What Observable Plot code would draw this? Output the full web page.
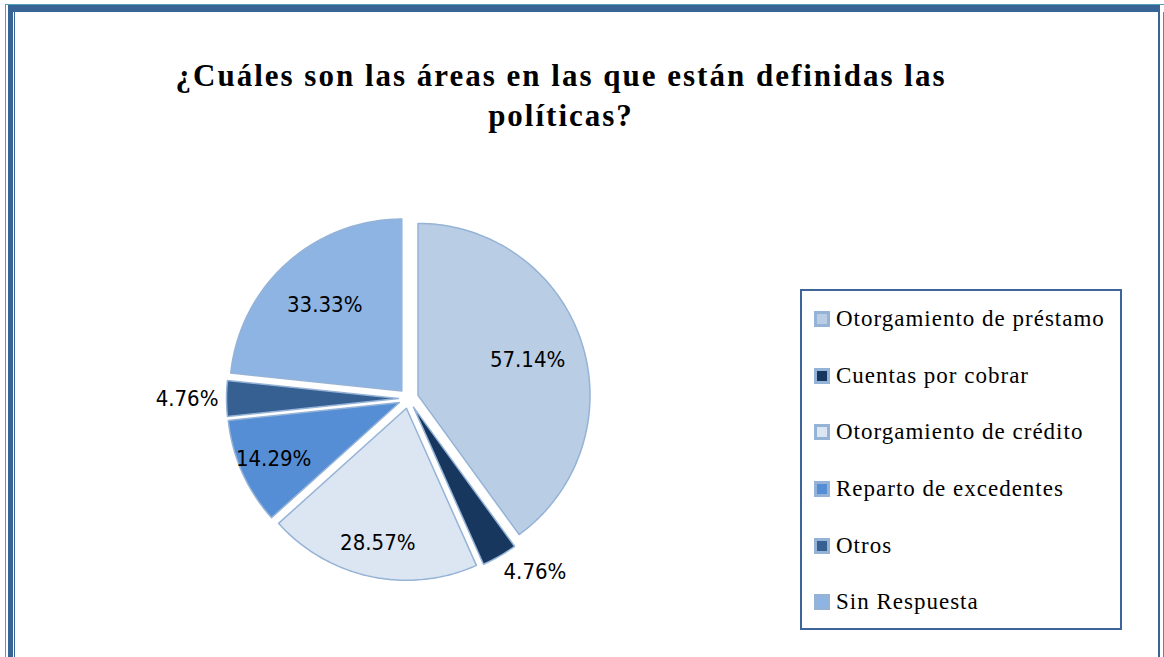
<!DOCTYPE html>
<html><head><meta charset="utf-8">
<script src="https://cdn.jsdelivr.net/npm/d3@7"></script>
<script src="https://cdn.jsdelivr.net/npm/@observablehq/plot@0.6"></script>
<style>
html,body{margin:0;padding:0;background:#fff}
body{width:1164px;height:657px;overflow:hidden;position:relative;font-family:"Liberation Serif","Times New Roman",serif}
.f1{position:absolute;left:5px;top:4px;width:1200px;height:700px;border-left:1px solid #4f9fb8;border-top:1px solid #4f9fb8;box-sizing:border-box}
.f2{position:absolute;left:8px;top:5px;width:1152px;height:700px;border-left:5px solid #386496;border-top:7px solid #386496;border-right:2px solid #386496;box-sizing:border-box}
.f3{position:absolute;left:14px;top:12px;width:1150px;height:700px;border-left:1px solid #386496;border-right:1px solid #5b86b8;box-sizing:border-box}
#title{position:absolute;left:0;top:56px;width:1122px;text-align:center;font-weight:bold;font-size:31px;letter-spacing:2px;line-height:40px;color:#000}
#chart{position:absolute;left:150px;top:190px}
#legend{position:absolute;left:800px;top:289px;width:322px;height:341px;border:2px solid #3d659a;box-sizing:border-box;background:#fff}
.row{display:flex;align-items:center;height:56.6px}
.sw{width:16px;height:16px;box-sizing:border-box;border:3px solid #95b3d7;margin-left:12px;margin-right:6px;flex:none}
.lt{font-size:23px;letter-spacing:1px;color:#000;white-space:nowrap}
</style></head>
<body>
<div class="f1"></div><div class="f2"></div><div class="f3"></div>
<div id="title">¿Cuáles son las áreas en las que están definidas las<br>políticas?</div>
<div id="chart"></div>
<div id="legend"></div>
<script>
const categories = ["Otorgamiento de préstamo","Cuentas por cobrar","Otorgamiento de crédito","Reparto de excedentes","Otros","Sin Respuesta"];
const values = [57.14, 4.76, 28.57, 14.29, 4.76, 33.33];
const labels = ["57.14%","4.76%","28.57%","14.29%","4.76%","33.33%"];
const colors = ["#b9cde5","#17375e","#dce6f2","#558ed5","#376092","#8eb4e3"];

const R = 172, explode = 10;
const W = 500, H = 420, CX = 258, CY = 208;
const labelFont = "'Liberation Sans Narrow','DejaVu Sans Condensed',sans-serif";
const arcs = d3.pie().sort(null).value(d => d)(values);
const poly = [];
const inLabs = [];
const outLabs = [];
arcs.forEach((a, i) => {
  const mid = (a.startAngle + a.endAngle) / 2;
  const s = Math.sin(mid), c = Math.cos(mid);
  const ox = explode * s, oy = -explode * c;
  poly.push({key: categories[i], x: ox, y: oy});
  const n = Math.max(2, Math.ceil((a.endAngle - a.startAngle) / (Math.PI / 180)));
  for (let k = 0; k <= n; k++) {
    const t = a.startAngle + (a.endAngle - a.startAngle) * k / n;
    poly.push({key: categories[i], x: ox + R * Math.sin(t), y: oy - R * Math.cos(t)});
  }
  if (values[i] > 10) {
    const lr = (values[i] > 30 ? 0.67 : 0.8) * R;
    inLabs.push({text: labels[i], x: ox + lr * s, y: oy - lr * c});
  } else {
    const lr = R + 8;
    outLabs.push({
      text: labels[i], x: ox + lr * s, y: oy - lr * c,
      ta: s > 0.15 ? "start" : s < -0.15 ? "end" : "middle",
      la: c < -0.3 ? "top" : c > 0.3 ? "bottom" : "middle"
    });
  }
});

const chart = Plot.plot({
  width: W, height: H,
  margin: 0,
  x: {domain: [-CX, W - CX], range: [0, W], axis: null},
  y: {domain: [-CY, H - CY], range: [0, H], axis: null},
  color: {domain: categories, range: colors},
  style: {background: "transparent", overflow: "visible"},
  marks: [
    Plot.line(poly, {x: "x", y: "y", z: "key", fill: "key", stroke: "#95b3d7", strokeWidth: 1.5, curve: "linear-closed"}),
    Plot.text(inLabs, {x: "x", y: "y", text: "text", fontSize: 22, fill: "#000", fontFamily: labelFont}),
    ...outLabs.map(l => Plot.text([l], {x: "x", y: "y", text: "text", fontSize: 22, fill: "#000", fontFamily: labelFont, textAnchor: l.ta, lineAnchor: l.la}))
  ]
});
document.getElementById("chart").appendChild(chart);

const leg = document.getElementById("legend");
categories.forEach((c, i) => {
  const row = document.createElement("div");
  row.className = "row";
  const sw = document.createElement("div");
  sw.className = "sw";
  sw.style.background = colors[i];
  const t = document.createElement("span");
  t.className = "lt";
  t.textContent = c;
  row.appendChild(sw); row.appendChild(t);
  leg.appendChild(row);
});
</script>
</body></html>
